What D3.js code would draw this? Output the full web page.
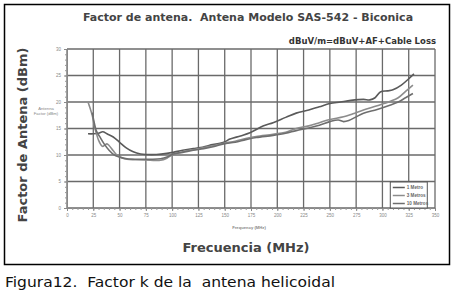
<!DOCTYPE html>
<html>
<head>
<meta charset="utf-8">
<script src="https://cdn.jsdelivr.net/npm/d3@7"></script>
<style>
  body { margin: 0; background: #fff; }
</style>
</head>
<body>
<div id="chart"></div>
<script>
// data: [frequency MHz, factor dB]
var metro1 = [[20,14.0],[25,14.0],[30,14.1],[34,14.4],[38,14.0],[44,13.4],[50,12.4],[56,11.4],[63,10.6],[70,10.2],[76,10.1],[85,10.1],[95,10.3],[101,10.5],[110,10.9],[120,11.2],[127,11.4],[135,11.8],[149,12.4],[155,13.0],[165,13.6],[174,14.2],[187,15.5],[196,16.1],[208,17.1],[218,17.9],[230,18.5],[240,19.1],[250,19.7],[260,20.0],[270,20.3],[282,20.5],[288,20.4],[293,20.8],[298,21.9],[305,22.1],[310,22.3],[318,23.2],[324,24.2],[330,25.3]];
var metro3 = [[20,20.0],[22,18.8],[24,17.5],[26,15.5],[28,14.0],[30,12.8],[32,12.0],[34,11.6],[36,11.9],[38,12.1],[40,11.8],[44,10.8],[48,9.9],[52,9.5],[57,9.2],[65,9.1],[79,9.0],[89,9.0],[95,9.4],[101,10.1],[110,10.6],[120,11.0],[130,11.4],[140,11.8],[149,12.2],[160,12.6],[170,13.1],[180,13.5],[196,13.9],[208,14.3],[218,15.0],[230,15.5],[240,16.1],[250,16.7],[263,17.2],[272,17.8],[282,18.5],[295,19.3],[307,20.1],[315,20.8],[322,22.0],[329,23.2]];
var metro10 = [[24,18.0],[26,16.0],[28,14.5],[31,13.5],[35,12.2],[40,10.9],[45,10.0],[50,9.6],[57,9.3],[70,9.2],[80,9.2],[89,9.3],[95,9.6],[101,10.2],[110,10.5],[120,10.9],[130,11.2],[140,11.6],[149,12.1],[160,12.4],[170,12.9],[180,13.3],[196,13.7],[208,14.1],[218,14.6],[230,15.1],[240,15.6],[250,16.3],[258,16.6],[263,16.3],[268,16.5],[275,17.2],[282,17.9],[295,18.6],[307,19.4],[315,20.0],[322,20.8],[329,21.6]];
var seriesNames = ['1 Metro', '3 Metros', '10 Metros'];
var xTicks = [0, 25, 50, 75, 100, 125, 150, 175, 200, 225, 250, 275, 300, 325, 350];
var yTicks = [0, 5, 10, 15, 20, 25, 30];

var W = 454, H = 293;
var margin = { top: 49, right: 19, bottom: 85, left: 67 };
var width = W - margin.left - margin.right,
    height = H - margin.top - margin.bottom;

var svg = d3.select('#chart').append('svg')
    .attr('width', W)
    .attr('height', H);

// outer frame
svg.append('rect')
    .attr('x', 4.5).attr('y', 4.5)
    .attr('width', 445).attr('height', 260)
    .attr('fill', 'none').attr('stroke', '#000').attr('stroke-width', 1.5);

var g = svg.append('g')
    .attr('transform', 'translate(' + margin.left + ',' + margin.top + ')');

var x = d3.scaleLinear().domain([0, 350]).range([0, width]);
var y = d3.scaleLinear().domain([0, 30]).range([height, 0]);

// grid
g.selectAll('.vgrid').data(xTicks).enter().append('line')
    .attr('x1', function (d) { return x(d); }).attr('x2', function (d) { return x(d); })
    .attr('y1', 0).attr('y2', height)
    .attr('stroke', '#6a6a6a').attr('stroke-width', 1.3);
g.selectAll('.hgrid').data(yTicks).enter().append('line')
    .attr('y1', function (d) { return y(d); }).attr('y2', function (d) { return y(d); })
    .attr('x1', 0).attr('x2', width)
    .attr('stroke', '#6a6a6a').attr('stroke-width', 1.3);

// axes with minor ticks
var xMinor = g.append('g').attr('transform', 'translate(0,' + height + ')')
    .call(d3.axisBottom(x).ticks(70).tickSize(2).tickFormat(''));
var yMinor = g.append('g')
    .call(d3.axisLeft(y).ticks(30).tickSize(2).tickFormat(''));
[xMinor, yMinor].forEach(function (a) {
    a.select('.domain').attr('stroke', '#888');
    a.selectAll('line').attr('stroke', '#999');
});

var xAxis = g.append('g').attr('transform', 'translate(0,' + height + ')')
    .call(d3.axisBottom(x).tickValues(xTicks).tickSize(3).tickPadding(3));
var yAxis = g.append('g')
    .call(d3.axisLeft(y).tickValues(yTicks).tickSize(3).tickPadding(3));
[xAxis, yAxis].forEach(function (a) {
    a.select('.domain').remove();
    a.selectAll('line').attr('stroke', '#888');
    a.selectAll('text').attr('fill', '#888').style('font-size', '4.5px')
        .style('font-family', 'Liberation Sans, Arial, sans-serif');
});

// curves
var line = d3.line()
    .x(function (d) { return x(d[0]); })
    .y(function (d) { return y(d[1]); })
    .curve(d3.curveCatmullRom);
var colors = ['#5a5a5a', '#8c8c8c', '#6e6e6e'];
var lineData = [metro1, metro3, metro10];

g.selectAll('.curve').data(lineData).enter().append('path')
    .attr('d', line)
    .attr('fill', 'none')
    .attr('stroke', function (d, i) { return colors[i]; })
    .attr('stroke-width', 1.6);

// legend
var lg = g.append('g').attr('transform', 'translate(' + (x(307)) + ',' + (y(5)) + ')');
lg.append('rect').attr('x', 0.5).attr('y', 0.5).attr('width', 37).attr('height', 26)
    .attr('fill', '#fff').attr('stroke', '#555').attr('stroke-width', 1);
seriesNames.forEach(function (name, i) {
    lg.append('line').attr('x1', 3).attr('x2', 15)
        .attr('y1', 6 + i * 8).attr('y2', 6 + i * 8)
        .attr('stroke', colors[i]).attr('stroke-width', 1.5);
    lg.append('text').attr('x', 17).attr('y', 7.6 + i * 8)
        .text(name)
        .attr('fill', '#666').style('font-size', '4.6px').style('font-weight', 'bold')
        .style('font-family', 'Liberation Sans, Arial, sans-serif');
});

// texts
svg.append('text').attr('x', 248).attr('y', 21).attr('text-anchor', 'middle')
    .text('Factor de antena.  Antena Modelo SAS-542 - Biconica')
    .attr('fill', '#444').style('font-size', '11px').style('font-weight', 'bold')
    .style('white-space', 'pre')
    .style('font-family', 'DejaVu Sans, Verdana, sans-serif');
svg.append('text').attr('x', 436).attr('y', 44).attr('text-anchor', 'end')
    .text('dBuV/m=dBuV+AF+Cable Loss')
    .attr('fill', '#333').style('font-size', '8.5px').style('font-weight', 'bold')
    .style('font-family', 'DejaVu Sans, Verdana, sans-serif');
svg.append('text').attr('x', 246).attr('y', 252).attr('text-anchor', 'middle')
    .text('Frecuencia (MHz)')
    .attr('fill', '#444').style('font-size', '13px').style('font-weight', 'bold')
    .style('font-family', 'DejaVu Sans, Verdana, sans-serif');
svg.append('text').attr('transform', 'translate(27,135) rotate(-90)').attr('text-anchor', 'middle')
    .text('Factor de Antena (dBm)')
    .attr('fill', '#444').style('font-size', '13px').style('font-weight', 'bold')
    .style('font-family', 'DejaVu Sans, Verdana, sans-serif');
svg.append('text').attr('x', 249).attr('y', 229).attr('text-anchor', 'middle')
    .text('Frequency (MHz)')
    .attr('fill', '#888').style('font-size', '4.2px').style('font-weight', 'bold')
    .style('font-family', 'Liberation Sans, Arial, sans-serif');
var af = svg.append('text').attr('text-anchor', 'middle')
    .attr('fill', '#888').style('font-size', '4.2px')
    .style('font-family', 'Liberation Sans, Arial, sans-serif');
af.append('tspan').attr('x', 46).attr('y', 110).text('Antenna');
af.append('tspan').attr('x', 46).attr('y', 115).text('Factor (dBm)');

svg.append('text').attr('x', 5).attr('y', 287)
    .text('Figura12.  Factor k de la  antena helicoidal')
    .attr('fill', '#111').style('font-size', '13.5px').style('white-space', 'pre')
    .attr('textLength', 330).attr('lengthAdjust', 'spacingAndGlyphs')
    .style('font-family', 'DejaVu Sans, sans-serif');
</script>
</body>
</html>
